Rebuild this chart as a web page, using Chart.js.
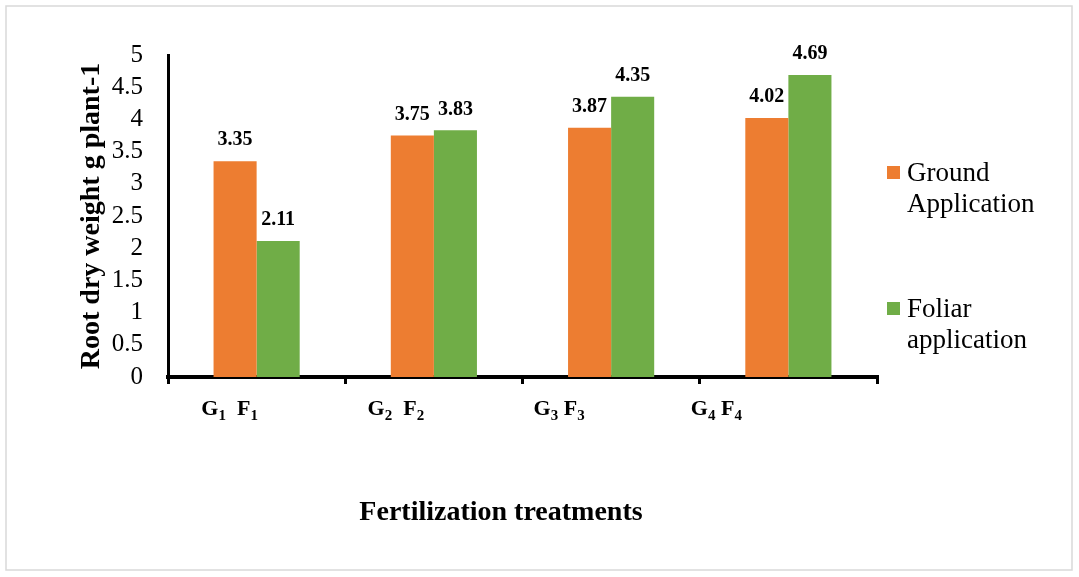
<!DOCTYPE html>
<html lang="en">
<head>
<meta charset="UTF-8">
<title>Root dry weight</title>
<script src="https://cdn.jsdelivr.net/npm/chart.js"></script>
<style>
  html, body { margin: 0; padding: 0; background: #fff; overflow: hidden; }
</style>
</head>
<body>
<canvas id="rootChart" width="1079" height="577"></canvas>
<script>
    // Treatments (digits are drawn as subscripts)
    const treatments = ['G1  F1', 'G2  F2', 'G3 F3', 'G4 F4'];

    // Root dry weight (g plant-1)
    const groundApplication = [3.35, 3.75, 3.87, 4.02];
    const foliarApplication = [2.11, 3.83, 4.35, 4.69];

    const seriesLabels = ['Ground Application', 'Foliar application'];
    const seriesColors = ['#ED7D31', '#70AD47'];

    const serif = "'Liberation Serif', 'Times New Roman', serif";

    // the category labels sit a bit left of each group in the original
    const labelShift = [-27, -38, -52, -72];

    const extras = {
        id: 'extras',
        beforeDraw(chart) {
            const ctx = chart.ctx;
            ctx.save();
            ctx.strokeStyle = '#d9d9d9';
            ctx.lineWidth = 1.5;
            ctx.strokeRect(6, 6, 1066, 564);
            ctx.restore();
        },
        afterDraw(chart) {
            const ctx = chart.ctx;
            const xs = chart.scales.x;
            ctx.save();
            ctx.fillStyle = '#000';

            // value labels above bars
            ctx.font = 'bold 20px ' + serif;
            ctx.textAlign = 'center';
            ctx.textBaseline = 'middle';
            chart.data.datasets.forEach((ds, d) => {
                chart.getDatasetMeta(d).data.forEach((bar, i) => {
                    ctx.fillText(ds.data[i].toFixed(2), bar.x, bar.y - 21);
                });
            });

            // category labels with subscripts
            ctx.textAlign = 'left';
            ctx.textBaseline = 'alphabetic';
            const big = 'bold 22px ' + serif;
            const small = 'bold 15px ' + serif;
            treatments.forEach((t, i) => {
                const chars = t.split('');
                let w = 0;
                chars.forEach(c => {
                    ctx.font = /[0-9]/.test(c) ? small : big;
                    w += ctx.measureText(c).width;
                });
                let px = xs.getPixelForValue(i) + labelShift[i] - w / 2;
                chars.forEach(c => {
                    const sub = /[0-9]/.test(c);
                    ctx.font = sub ? small : big;
                    ctx.fillText(c, px, sub ? 420 : 415);
                    px += ctx.measureText(c).width;
                });
            });

            // x axis title
            ctx.font = 'bold 28px ' + serif;
            ctx.textAlign = 'center';
            ctx.textBaseline = 'middle';
            ctx.fillText('Fertilization treatments', 501, 513);

            // legend
            ctx.font = '27px ' + serif;
            ctx.textAlign = 'left';
            ctx.textBaseline = 'alphabetic';
            const legendTop = [166, 302];
            chart.data.datasets.forEach((ds, d) => {
                ctx.fillStyle = ds.backgroundColor;
                ctx.fillRect(887, legendTop[d], 13, 13);
                ctx.fillStyle = '#000';
                ds.label.split(' ').forEach((line, k) => {
                    ctx.fillText(line, 907, legendTop[d] + 15 + k * 31);
                });
            });
            ctx.restore();
        }
    };

    const ctxRoot = document.getElementById('rootChart').getContext('2d');
    new Chart(ctxRoot, {
        type: 'bar',
        data: {
            labels: treatments,
            datasets: [
                {
                    label: seriesLabels[0],
                    data: groundApplication,
                    backgroundColor: seriesColors[0],
                    categoryPercentage: 0.486,
                    barPercentage: 1
                },
                {
                    label: seriesLabels[1],
                    data: foliarApplication,
                    backgroundColor: seriesColors[1],
                    categoryPercentage: 0.486,
                    barPercentage: 1
                }
            ]
        },
        options: {
            responsive: false,
            animation: false,
            layout: { padding: { left: 75, right: 202, top: 55, bottom: 0 } },
            plugins: {
                legend: { display: false },
                tooltip: { enabled: false }
            },
            scales: {
                x: {
                    grid: {
                        display: true,
                        drawOnChartArea: false,
                        offset: true,
                        color: '#000',
                        lineWidth: 3,
                        tickLength: 7,
                        tickWidth: 3,
                        tickColor: '#000'
                    },
                    border: { display: true, color: '#000', width: 4 },
                    ticks: { display: false },
                    afterFit: s => { s.height = 200; }
                },
                y: {
                    min: 0,
                    max: 5,
                    ticks: {
                        stepSize: 0.5,
                        autoSkip: false,
                        padding: 25,
                        color: '#000',
                        font: { family: serif, size: 25 },
                        callback: v => String(Number(v.toFixed(1)))
                    },
                    grid: { display: false, drawTicks: false },
                    border: { display: true, color: '#000', width: 3 },
                    title: {
                        display: true,
                        text: 'Root dry weight g plant-1',
                        color: '#000',
                        padding: 0,
                        font: { family: serif, size: 28, weight: 'bold' }
                    },
                    afterFit: s => { s.width = 93; }
                }
            }
        },
        plugins: [extras]
    });
</script>
</body>
</html>
